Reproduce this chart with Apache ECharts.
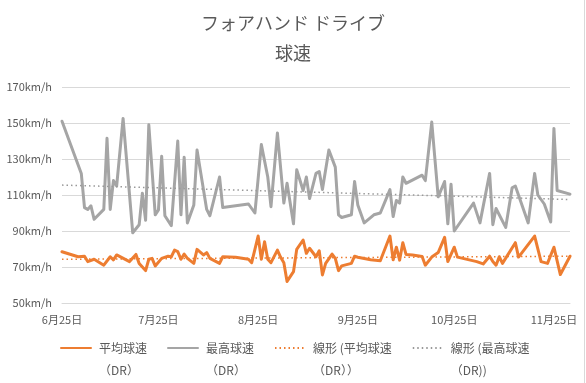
<!DOCTYPE html>
<html>
<head>
<meta charset="utf-8">
<script src="https://cdn.jsdelivr.net/npm/echarts@6/dist/echarts.min.js"></script>
<style>
html,body{margin:0;padding:0;background:#fff;}
#chart{width:586px;height:383px;}
</style>
</head>
<body>
<div id="chart"></div>
<script>
const YEAR = 2023;
const titleLines = ['フォアハンド ドライブ', '球速'];
const seriesNames = ['平均球速\n（DR）', '最高球速\n（DR）', '線形 (平均球速\n（DR））', '線形 (最高球速\n（DR))'];
const tickDates = ['6/25', '7/25', '8/25', '9/25', '10/25', '11/25'];
const axisStart = '6/25';
const axisEnd = '11/30';

const avgDates = ['6/25','6/30','7/2','7/3','7/5','7/8','7/10','7/11','7/12','7/16','7/18','7/19','7/21','7/22','7/23','7/24','7/26','7/28','7/29','7/30','7/31','8/1','8/2','8/3','8/5','8/6','8/8','8/9','8/10','8/13','8/14','8/18','8/22','8/23','8/25','8/26','8/27','8/28','8/29','8/31','9/1','9/2','9/3','9/5','9/6','9/8','9/9','9/10','9/12','9/13','9/14','9/15','9/17','9/18','9/19','9/20','9/23','9/24','9/25','9/29','10/2','10/5','10/6','10/7','10/8','10/9','10/10','10/12','10/15','10/16','10/18','10/20','10/22','10/23','10/25','10/26','11/1','11/3','11/5','11/6','11/7','11/8','11/9','11/13','11/14','11/19','11/21','11/23','11/25','11/27','11/30'];
const avgValues = [78.5,75.7,76,73,74.3,71,75.7,74,76.7,73,77,72,68,74.3,74.8,70.6,74.8,76,75.7,79.4,78.5,74.3,77.2,74.8,72,79.8,76.7,78,74.8,72,75.7,75.4,74.3,72.4,87.2,74.3,84,74.3,72.4,79.4,75.4,72.4,62,67.4,79.8,85,77.6,80.4,75.7,79,65.6,72,77.2,74.8,68,70.6,72,76,75.4,74,73.5,87.2,74,81,73.8,83.5,77,76.7,75.8,71,75.5,78,86.5,73,81,75.5,73,71.7,76,73,71,75.7,72,83.5,75.5,87.2,73,72,81,65.8,76];

const maxDates = ['6/25','7/1','7/2','7/3','7/4','7/5','7/8','7/9','7/10','7/11','7/12','7/14','7/17','7/19','7/20','7/21','7/22','7/24','7/25','7/26','7/27','7/29','7/31','8/1','8/2','8/3','8/5','8/6','8/9','8/10','8/13','8/14','8/22','8/24','8/26','8/28','8/29','8/31','9/2','9/3','9/5','9/6','9/8','9/9','9/10','9/12','9/13','9/14','9/16','9/18','9/19','9/20','9/23','9/24','9/25','9/27','9/30','10/2','10/5','10/6','10/7','10/8','10/9','10/10','10/15','10/16','10/18','10/20','10/22','10/23','10/24','10/25','10/31','11/2','11/5','11/6','11/7','11/10','11/12','11/13','11/17','11/19','11/20','11/22','11/24','11/25','11/26','11/30'];
const maxValues = [151,122,103,102,104,96.5,102,141.5,102,118,115,152.5,89,93.5,111,96,149,99,101.7,131.5,98.5,93,140,99,131,94.5,104.5,135,102,98.5,120,103,105,100,138,120,103.5,144.5,105.5,116.5,94,124,112.5,120,108,122,123,113,135,125.5,99,97.5,99,117.5,104.5,94.5,99,100,113,98,107,105.5,120,116.5,121,118,150.5,109,117.5,94,116,90,105.5,94.5,122,93.5,102.5,92,114,115,94.5,122,110,105,95,147,112.5,110.5];

// linear trend lines: value at first date, value at last date
const avgTrend = [74.3, 76.0];
const maxTrend = [115.5, 107.5];

function toTime(s) {
  const p = s.split('/');
  return new Date(YEAR, +p[0] - 1, +p[1]).getTime();
}
function pairs(dates, vals) { return dates.map((d, i) => [toTime(d), vals[i]]); }

const FONT = '"Noto Sans CJK JP", "Noto Sans", sans-serif';
const TXT = '#595959';
const ORANGE = '#ED7D31';
const GRAY = '#A5A5A5';

const chart = echarts.init(document.getElementById('chart'), null, {renderer: 'canvas'});
chart.setOption({
  animation: false,
  backgroundColor: '#fff',
  textStyle: {fontFamily: FONT},
  title: {
    text: titleLines.join('\n'),
    left: 'center',
    top: 3,
    textStyle: {fontFamily: FONT, fontSize: 18, fontWeight: 'normal', color: TXT, lineHeight: 30}
  },
  legend: {
    left: 60,
    top: 315,
    padding: 0,
    itemGap: 20,
    itemWidth: 30,
    itemHeight: 12,
    itemStyle: {opacity: 0, borderWidth: 0},
    formatter: function (name) { return '\n' + name; },
    textStyle: {fontFamily: FONT, fontSize: 12, color: TXT, lineHeight: 22, padding: [0, 0, 0, 3]},
    data: seriesNames
  },
  grid: {left: 62, right: 16, top: 87, bottom: 80, containLabel: false, outerBoundsMode: 'none'},
  xAxis: {
    type: 'value',
    min: toTime(axisStart),
    max: toTime(axisEnd),
    axisLine: {show: true, lineStyle: {color: '#D9D9D9', width: 1}},
    axisTick: {show: false},
    splitLine: {show: false},
    axisLabel: {
      customValues: tickDates.map(toTime),
      fontFamily: FONT, fontSize: 11, color: TXT, margin: 11,
      showMinLabel: true, showMaxLabel: true,
      formatter: function (v) {
        const d = new Date(v);
        return (d.getMonth() + 1) + '月' + d.getDate() + '日';
      }
    }
  },
  yAxis: {
    type: 'value',
    min: 50, max: 170, interval: 20,
    axisLine: {show: false},
    axisTick: {show: false},
    splitLine: {lineStyle: {color: '#D9D9D9', width: 1}},
    axisLabel: {fontFamily: FONT, fontSize: 11, color: TXT, margin: 10, formatter: '{value}km/h'}
  },
  series: [
    {
      name: seriesNames[0], type: 'line', data: pairs(avgDates, avgValues),
      symbol: 'none', color: ORANGE, z: 3,
      lineStyle: {width: 3, color: ORANGE, join: 'round', cap: 'round'}
    },
    {
      name: seriesNames[1], type: 'line', data: pairs(maxDates, maxValues),
      symbol: 'none', color: GRAY, z: 2,
      lineStyle: {width: 3, color: GRAY, join: 'round', cap: 'round'}
    },
    {
      name: seriesNames[2], type: 'line',
      data: [[toTime(avgDates[0]), avgTrend[0]], [toTime(avgDates[avgDates.length - 1]), avgTrend[1]]],
      symbol: 'none', color: ORANGE, z: 4,
      lineStyle: {width: 1.5, color: ORANGE, type: [1.5, 3]}
    },
    {
      name: seriesNames[3], type: 'line',
      data: [[toTime(maxDates[0]), maxTrend[0]], [toTime(maxDates[maxDates.length - 1]), maxTrend[1]]],
      symbol: 'none', color: GRAY, z: 4,
      lineStyle: {width: 1.5, color: '#999999', type: [1.5, 3]}
    }
  ],
  graphic: [{
    type: 'line', shape: {x1: 584.5, y1: 0, x2: 584.5, y2: 383},
    style: {stroke: '#D9D9D9', lineWidth: 1}, silent: true
  }]
});
</script>
</body>
</html>
